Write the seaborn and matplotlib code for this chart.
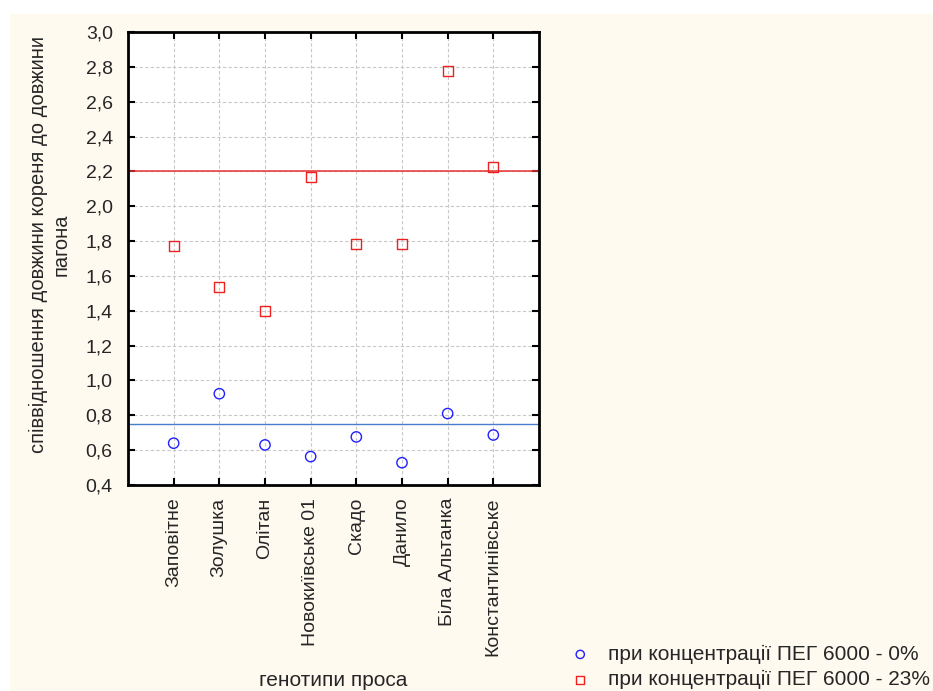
#!/usr/bin/env python3
import matplotlib
matplotlib.use("Agg")
import matplotlib.pyplot as plt
import seaborn as sns
import pandas as pd
from matplotlib.patches import Rectangle
from matplotlib.ticker import FuncFormatter, MultipleLocator

GENOTYPES = ["Заповітне", "Золушка", "Олітан", "Новокиївське 01",
             "Скадо", "Данило", "Біла Альтанка", "Константинівське"]
PEG_0 = [0.64, 0.924, 0.63, 0.563, 0.676, 0.528, 0.81, 0.687]
PEG_23 = [1.77, 1.535, 1.40, 2.166, 1.782, 1.782, 2.778, 2.225]
LABEL_0 = "при концентрації ПЕГ 6000 - 0%"
LABEL_23 = "при концентрації ПЕГ 6000 - 23%"
REF_0 = 0.75
REF_23 = 2.2

df = pd.DataFrame({"genotype": GENOTYPES, "peg0": PEG_0, "peg23": PEG_23})

sns.set_style("white")
plt.rcParams["font.family"] = ["Liberation Sans", "DejaVu Sans"]
FS = 14

fig = plt.figure(figsize=(9.33, 6.91), dpi=100, facecolor="white")
# cream panel behind everything (white strip at top and left)
fig.patches.append(Rectangle((10 / 933, 0), 1, 1 - 14 / 691, transform=fig.transFigure,
                             facecolor="#fffaf0", edgecolor="none", zorder=-10))

ax = fig.add_axes([128 / 933, 1 - 485 / 691, 411 / 933, 453 / 691])
ax.set_facecolor("white")

sns.scatterplot(data=df, x="genotype", y="peg0", ax=ax, marker="o", s=55,
                facecolor="none", edgecolor="#2020ff", linewidth=1.0,
                label=LABEL_0, zorder=3)
sns.scatterplot(data=df, x="genotype", y="peg23", ax=ax, marker="s", s=55,
                facecolor="none", edgecolor="#ee2020", linewidth=1.0,
                label=LABEL_23, zorder=3)

ax.axhline(REF_23, color="#e83030", lw=1.1, zorder=2)
ax.axhline(REF_0, color="#4a7ccc", lw=1.0, zorder=2)

ax.set_xlim(-1, len(GENOTYPES))
ax.set_ylim(0.4, 3.0)
ax.yaxis.set_major_locator(MultipleLocator(0.2))
ax.yaxis.set_major_formatter(FuncFormatter(lambda v, p: f"{v:.1f}".replace(".", ",")))
ax.set_xticks(range(len(GENOTYPES)))
ax.set_xticklabels(GENOTYPES, rotation=90, fontsize=FS)
ax.tick_params(axis="y", labelsize=FS, pad=11)
ax.tick_params(axis="x", pad=9)
ax.tick_params(direction="in", length=5, width=1.5, top=True, right=True,
               bottom=True, left=True, color="black")

ax.grid(True, color="#c8c8c8", linestyle=(0, (3, 2)), linewidth=0.8)
for sp in ax.spines.values():
    sp.set_color("black")
    sp.set_linewidth(2)

ax.set_xlabel("")
ax.set_ylabel("співвідношення довжини кореня до довжини\nпагона", fontsize=14.5,
              linespacing=1.25)
ax.yaxis.set_label_coords((71 - 128) / 411, 0.53)
fig.text(333 / 933, 1 - 681 / 691, "генотипи проса", ha="center", va="center", fontsize=15)

ax.legend_.remove()
h, l = ax.get_legend_handles_labels()
fig.legend(h, l, loc="center left", bbox_to_anchor=(549 / 933, 1 - 667 / 691),
           frameon=False, fontsize=15, handletextpad=0.35, labelspacing=0.3,
           borderpad=0, markerscale=0.8)

fig.savefig("out.png", dpi=100)
